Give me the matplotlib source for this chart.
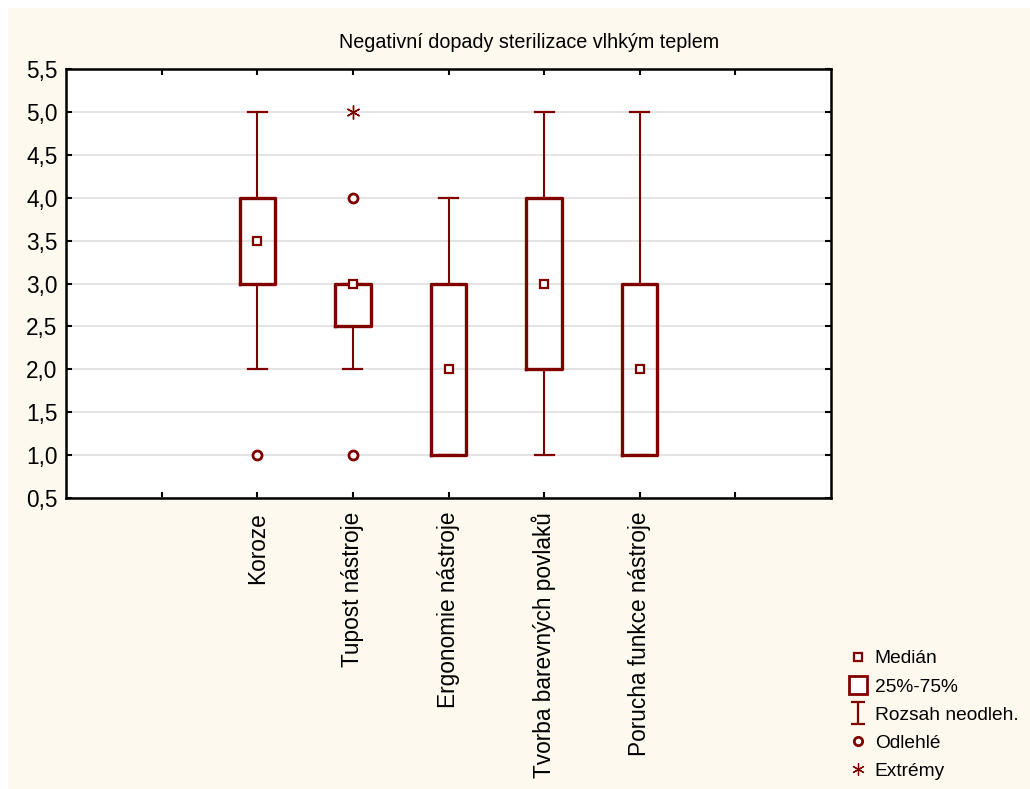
import numpy as np
import matplotlib
matplotlib.use("Agg")
import matplotlib.pyplot as plt
from matplotlib.lines import Line2D
from matplotlib.patches import Rectangle
from matplotlib.path import Path

plt.rcParams['font.family'] = ['Liberation Sans', 'DejaVu Sans']

# data
kategorie = ["Koroze", "Tupost nástroje", "Ergonomie nástroje",
             "Tvorba barevných povlaků", "Porucha funkce nástroje"]
median = [3.5, 3.0, 2.0, 3.0, 2.0]
q1 = [3.0, 2.5, 1.0, 2.0, 1.0]
q3 = [4.0, 3.0, 3.0, 4.0, 3.0]
rozsah_min = [2.0, 2.0, 1.0, 1.0, 1.0]
rozsah_max = [5.0, 3.0, 4.0, 5.0, 5.0]
odlehle = [[1.0], [1.0, 4.0], [], [], []]
extremy = [[], [5.0], [], [], []]
y_ticks = [0.5, 1.0, 1.5, 2.0, 2.5, 3.0, 3.5, 4.0, 4.5, 5.0, 5.5]

barva = "#800000"
pozadi = "#fdf9ee"

fig = plt.figure(figsize=(10.3, 7.89), dpi=100)
fig.patch.set_facecolor("white")
fig.add_artist(Rectangle((8 / 1030, 0), 1, 1 - 8 / 789, transform=fig.transFigure,
                         facecolor=pozadi, edgecolor="none", zorder=-10))

ax = fig.add_axes([0.0641, 0.3688, 0.7427, 0.5437])
ax.set_facecolor("white")

pozice = np.arange(2, 2 + len(kategorie))
stats = []
for i in range(len(kategorie)):
    stats.append(dict(med=median[i], q1=q1[i], q3=q3[i],
                      whislo=rozsah_min[i], whishi=rozsah_max[i], fliers=[]))

ax.bxp(stats, positions=pozice, widths=0.37, capwidths=0.2, showfliers=False,
       boxprops=dict(color=barva, linewidth=2.4),
       whiskerprops=dict(color=barva, linewidth=1.5),
       capprops=dict(color=barva, linewidth=1.6),
       medianprops=dict(linestyle="none"), zorder=3)

ax.plot(pozice, median, linestyle="none", marker="s", markersize=6,
        markerfacecolor="white", markeredgecolor=barva, markeredgewidth=1.6, zorder=4)
for p, vals in zip(pozice, odlehle):
    if vals:
        ax.plot([p] * len(vals), vals, linestyle="none", marker="o", markersize=6.5,
                markerfacecolor="white", markeredgecolor=barva, markeredgewidth=2, zorder=4)
for p, vals in zip(pozice, extremy):
    if vals:
        ax.plot([p] * len(vals), vals, linestyle="none", marker=(6, 2, 0), markersize=10,
                color=barva, markeredgewidth=1.0, zorder=4)

ax.set_xlim(0, 8)
ax.set_ylim(0.5, 5.5)
ax.set_xticks(np.arange(1, 8))
ax.set_xticklabels([""] + kategorie + [""], rotation=90, va="top", ha="center", fontsize=16.3)
ax.set_yticks(y_ticks)
ax.set_yticklabels([f"{v:.1f}".replace(".", ",") for v in y_ticks], fontsize=16.3)
ax.yaxis.grid(True, color="#dcdcdc", linewidth=1.1)
ax.set_axisbelow(True)
ax.tick_params(direction="in", length=4, width=1.5, top=True, right=True, colors="black")
ax.tick_params(axis="x", pad=10)
ax.tick_params(axis="y", pad=6)
for s in ax.spines.values():
    s.set_linewidth(1.8)

fig.text(529 / 1030, 1 - 42 / 789, "Negativní dopady sterilizace vlhkým teplem",
         ha="center", va="center", fontsize=14.2)

# legend
rozsah_marker = Path([(-0.6, -1), (0.6, -1), (0, -1), (0, 1), (-0.6, 1), (0.6, 1)],
                     [Path.MOVETO, Path.LINETO, Path.MOVETO, Path.LINETO, Path.MOVETO, Path.LINETO])
handles = [
    Line2D([], [], linestyle="none", marker="s", markersize=6, markerfacecolor="white",
           markeredgecolor=barva, markeredgewidth=1.6),
    Line2D([], [], linestyle="none", marker="s", markersize=13, markerfacecolor="white",
           markeredgecolor=barva, markeredgewidth=2),
    Line2D([], [], linestyle="none", marker=rozsah_marker, markersize=16,
           color=barva, markeredgewidth=1.6),
    Line2D([], [], linestyle="none", marker="o", markersize=6, markerfacecolor="white",
           markeredgecolor=barva, markeredgewidth=2),
    Line2D([], [], linestyle="none", marker=(6, 2, 0), markersize=9,
           color=barva, markeredgewidth=0.9),
]
labels = ["Medián", "25%-75%", "Rozsah neodleh.", "Odlehlé", "Extrémy"]
fig.legend(handles, labels, loc="upper left", bbox_to_anchor=(848 / 1030, 1 - 650 / 789),
           frameon=False, fontsize=13.8, handlelength=1.0, handletextpad=0.39,
           labelspacing=0.56, borderpad=0, borderaxespad=0)

fig.savefig("out.png", dpi=100, facecolor=fig.get_facecolor())
